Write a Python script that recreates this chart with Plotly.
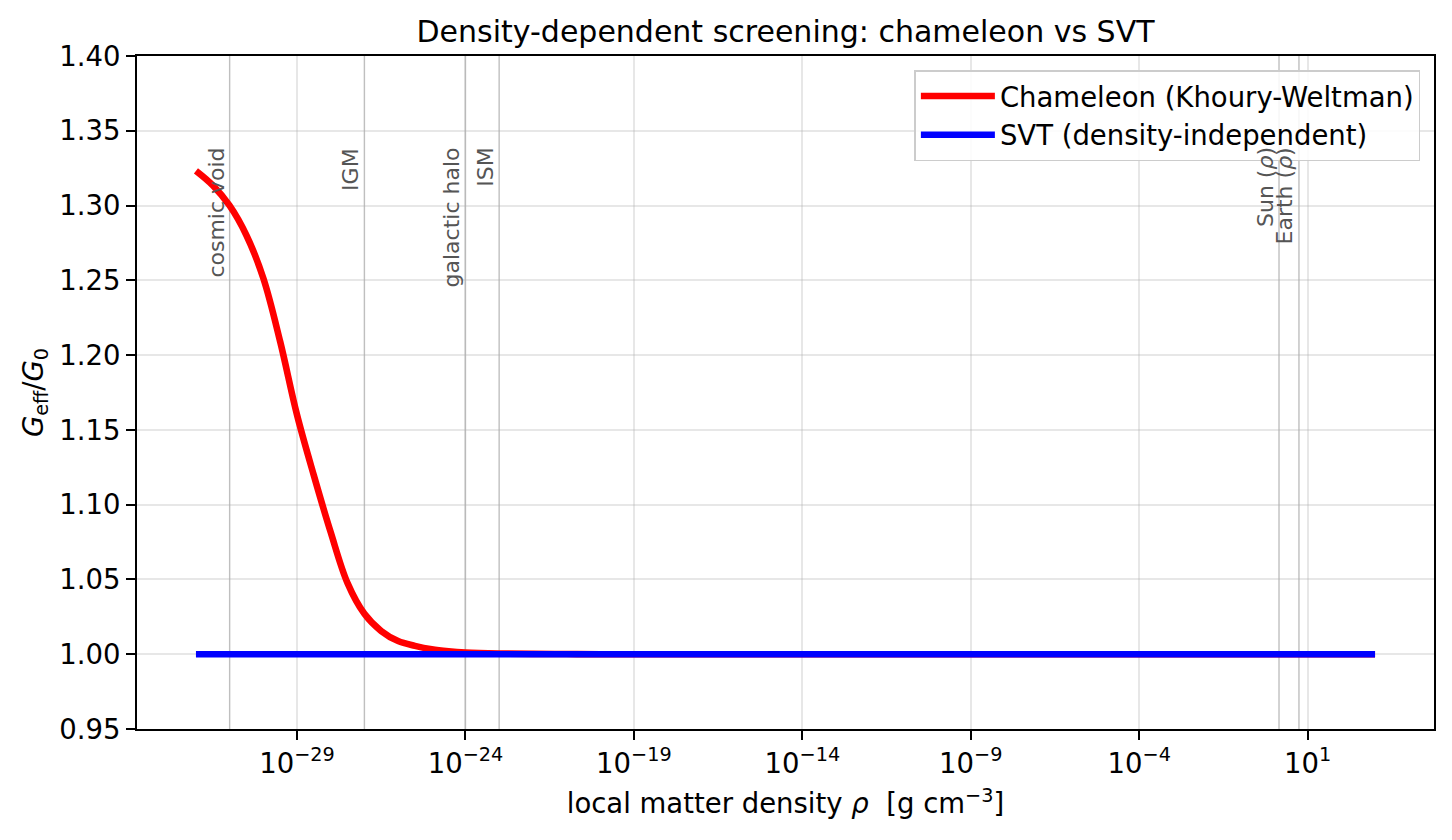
import numpy as np
import plotly.graph_objects as go

# ---------------- data ----------------
cham_log_rho = [-32.0, -31.5, -31.0, -30.5, -30.0, -29.5, -29.0, -28.5, -28.0,
                -27.5, -27.0, -26.5, -26.0, -25.5, -25.0, -24.5, -24.0, -23.0,
                -22.0, -21.0, -20.0, -15.0, -10.0, -5.0, 0.0, 3.0]
cham_G = [1.3232, 1.3135, 1.2999, 1.2800, 1.2514, 1.2090, 1.1600, 1.1195, 1.0815,
          1.0475, 1.0270, 1.0155, 1.0088, 1.0056, 1.0033, 1.0020, 1.0012, 1.0005,
          1.0002, 1.0001, 1.0, 1.0, 1.0, 1.0, 1.0, 1.0]

svt_log_rho = [-32.0, 3.0]
svt_G = [1.0, 1.0]

env_names = ["cosmic void", "IGM", "galactic halo", "ISM", "Sun (<i>ρ</i>)", "Earth (<i>ρ</i>)"]
env_rho = [1e-31, 1e-27, 1e-24, 1e-23, 1.41, 5.51]

xtick_vals = [1e-29, 1e-24, 1e-19, 1e-14, 1e-9, 1e-4, 1e1]
xtick_text = ["10<sup>−29</sup>", "10<sup>−24</sup>", "10<sup>−19</sup>", "10<sup>−14</sup>",
              "10<sup>−9</sup>", "10<sup>−4</sup>", "10<sup>1</sup>"]

FONT = "DejaVu Sans"
FS = 27.5

fig = go.Figure()
fig.add_trace(go.Scatter(
    x=[10 ** v for v in cham_log_rho], y=cham_G, mode="lines",
    line=dict(color="#ff0000", width=6.6, shape="spline", smoothing=1.0),
    name="Chameleon (Khoury-Weltman)"))
fig.add_trace(go.Scatter(
    x=[10 ** v for v in svt_log_rho], y=svt_G, mode="lines",
    line=dict(color="#0000ff", width=6.6),
    name="SVT (density-independent)"))

shapes = []
annotations = []
for name, rho in zip(env_names, env_rho):
    shapes.append(dict(type="line", xref="x", yref="paper", x0=rho, x1=rho, y0=0, y1=1,
                       line=dict(color="rgba(128,128,128,0.5)", width=1.4), layer="below"))
    annotations.append(dict(x=float(np.log10(rho)), y=1.3395, xref="x", yref="y", text=name,
                            textangle=-90, showarrow=False, xanchor="right", yanchor="top",
                            font=dict(family=FONT, size=22, color="#555555"),
                            borderpad=0))

fig.update_layout(
    width=1452, height=840,
    margin=dict(l=137, r=18, t=56, b=111),
    paper_bgcolor="white", plot_bgcolor="white",
    font=dict(family=FONT, size=FS, color="black"),
    title=dict(text="Density-dependent screening: chameleon vs SVT",
               x=(137 + 1434) / 2 / 1452, xanchor="center",
               y=1 - 31 / 840, yanchor="middle", yref="container",
               font=dict(family=FONT, size=30, color="black")),
    showlegend=True,
    legend=dict(x=0.9895, y=0.979, xanchor="right", yanchor="top",
                bgcolor="rgba(255,255,255,0.85)", bordercolor="#cccccc", borderwidth=1.5,
                font=dict(family=FONT, size=FS, color="black"),
                itemwidth=74, tracegroupgap=0),
    shapes=shapes,
    annotations=annotations,
)

fig.update_xaxes(
    type="log", range=[-33.75, 4.75],
    tickvals=xtick_vals, ticktext=xtick_text,
    ticks="outside", ticklen=9, tickwidth=1.9, tickcolor="black",
    showline=True, linecolor="black", linewidth=1.9, mirror=True,
    showgrid=True, gridcolor="rgba(176,176,176,0.3)", gridwidth=1.8,
    zeroline=False,
    tickfont=dict(family=FONT, size=FS, color="black"),
    title=dict(text="local matter density <i>ρ</i>\u00a0 [g cm<sup>−3</sup>]",
               font=dict(family=FONT, size=FS, color="black"), standoff=16),
)
fig.update_yaxes(
    range=[0.95, 1.40], dtick=0.05, tick0=0.95, tickformat=".2f",
    ticks="outside", ticklen=9, tickwidth=1.9, tickcolor="black",
    showline=True, linecolor="black", linewidth=1.9, mirror=True,
    showgrid=True, gridcolor="rgba(176,176,176,0.3)", gridwidth=1.8,
    zeroline=False,
    tickfont=dict(family=FONT, size=FS, color="black"),
    title=dict(text="<i>G</i><sub>eff</sub>/<i>G</i><sub>0</sub>",
               font=dict(family=FONT, size=FS, color="black"), standoff=8),
)

fig.write_html("out.html")
